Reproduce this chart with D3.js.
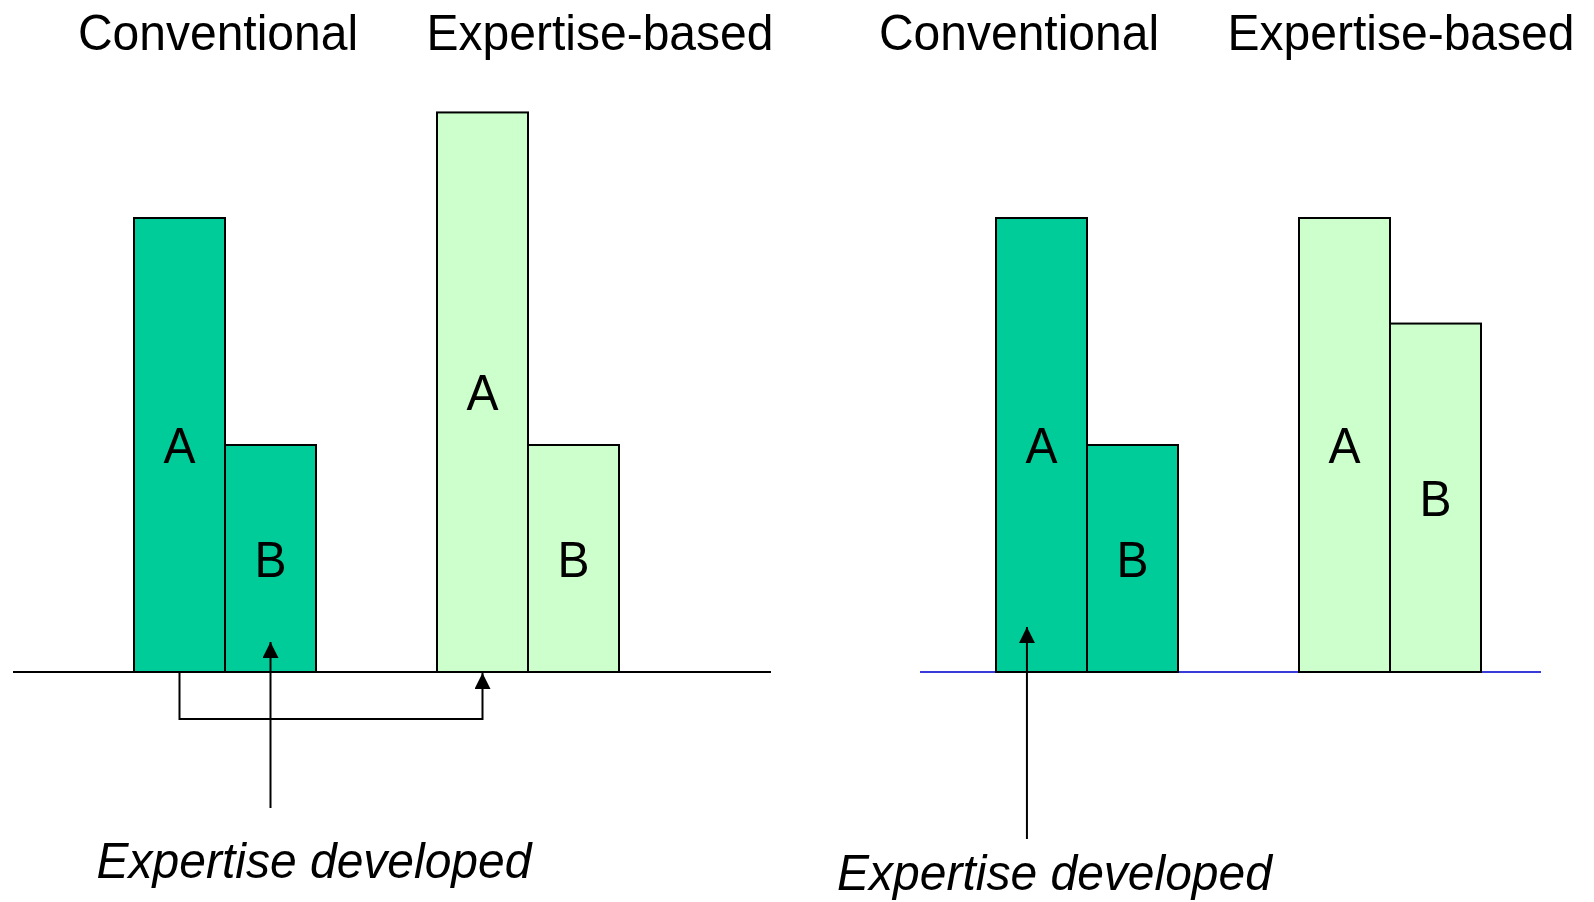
<!DOCTYPE html>
<html>
<head>
<meta charset="utf-8">
<script src="https://cdn.jsdelivr.net/npm/d3@7"></script>
<style>
  html, body { margin: 0; padding: 0; background: #fff; }
  svg { display: block; }
  text { font-family: "Liberation Sans", Arial, sans-serif; fill: #000; }
</style>
</head>
<body>
<svg id="chart" width="1594" height="902"></svg>
<script>
// Groups and series shared by both panels
const groups = ["Conventional", "Expertise-based"];
const series = ["A", "B"];

// Bar heights (arbitrary units) for each panel: rows = groups, columns = series
const leftValues = [[40, 20], [49.3, 20]];
const rightValues = [[40, 20], [40, 30.7]];

const groupFill = { "Conventional": "#00cc99", "Expertise-based": "#ccffcc" };

const svg = d3.select("#chart");
const baseY = 672;
const y = d3.scaleLinear().domain([0, 40]).range([baseY, 218]);

svg.append("defs").append("marker")
  .attr("id", "head")
  .attr("viewBox", "0 0 16 16")
  .attr("refX", 16).attr("refY", 8)
  .attr("markerWidth", 16).attr("markerHeight", 16)
  .attr("markerUnits", "userSpaceOnUse")
  .attr("orient", "auto")
  .append("path").attr("d", "M0,0 L16,8 L0,16 Z").attr("fill", "#000");

// text with a slightly tall face, anchored at its baseline
function label(g, x, yPos, str, italic) {
  return g.append("text")
    .attr("transform", `translate(${x},${yPos}) scale(1,1.06)`)
    .attr("text-anchor", "middle")
    .attr("font-size", 48)
    .attr("font-style", italic ? "italic" : "normal")
    .text(str);
}

function drawPanel(cfg) {
  const g = svg.append("g");
  // group bands: each group occupies a 303px slot, bars fill the first 182px
  const xg = d3.scaleBand().domain(groups).range([cfg.x0, cfg.x0 + 606]);
  const xs = d3.scaleBand().domain(series).range([0, 182]);

  // axis baseline
  g.append("line")
    .attr("x1", cfg.axis[0]).attr("x2", cfg.axis[1])
    .attr("y1", baseY).attr("y2", baseY)
    .attr("stroke", cfg.axisColor).attr("stroke-width", 2);

  groups.forEach((grp, gi) => {
    series.forEach((s, si) => {
      const v = cfg.values[gi][si];
      const x0 = xg(grp) + xs(s);
      g.append("rect")
        .attr("x", x0).attr("y", y(v))
        .attr("width", xs.bandwidth()).attr("height", baseY - y(v))
        .attr("fill", groupFill[grp])
        .attr("stroke", "#000").attr("stroke-width", 2);
      label(g, x0 + xs.bandwidth() / 2, (y(v) + baseY) / 2 + 18, s, false);
    });
  });

  // group titles
  groups.forEach((grp, gi) => label(g, cfg.titleX[gi], 50, grp, false));

  return { g, xg, xs };
}

// Left panel
const L = drawPanel({ x0: 134, values: leftValues, axis: [13, 771], axisColor: "#000", titleX: [218, 600] });
{
  const bw = L.xs.bandwidth();
  const convA = L.xg("Conventional") + L.xs("A") + bw / 2;
  const convB = L.xg("Conventional") + L.xs("B") + bw / 2;
  const expA = L.xg("Expertise-based") + L.xs("A") + bw / 2;
  L.g.append("line")
    .attr("x1", convB).attr("x2", convB)
    .attr("y1", 808).attr("y2", 642)
    .attr("stroke", "#000").attr("stroke-width", 2)
    .attr("marker-end", "url(#head)");
  L.g.append("path")
    .attr("d", `M${convA},${baseY} V719 H${expA} V${baseY + 1}`)
    .attr("fill", "none").attr("stroke", "#000").attr("stroke-width", 2)
    .attr("marker-end", "url(#head)");
  label(L.g, 314, 878, "Expertise developed", true);
}

// Right panel
const R = drawPanel({ x0: 996, values: rightValues, axis: [920, 1541], axisColor: "#3a3ad8", titleX: [1019, 1401] });
{
  const bw = R.xs.bandwidth();
  const ax = R.xg("Conventional") + R.xs("A") + bw * 0.34;
  R.g.append("line")
    .attr("x1", ax).attr("x2", ax)
    .attr("y1", 839).attr("y2", 627)
    .attr("stroke", "#000").attr("stroke-width", 2)
    .attr("marker-end", "url(#head)");
  label(R.g, 1054.5, 890, "Expertise developed", true);
}
</script>
</body>
</html>
